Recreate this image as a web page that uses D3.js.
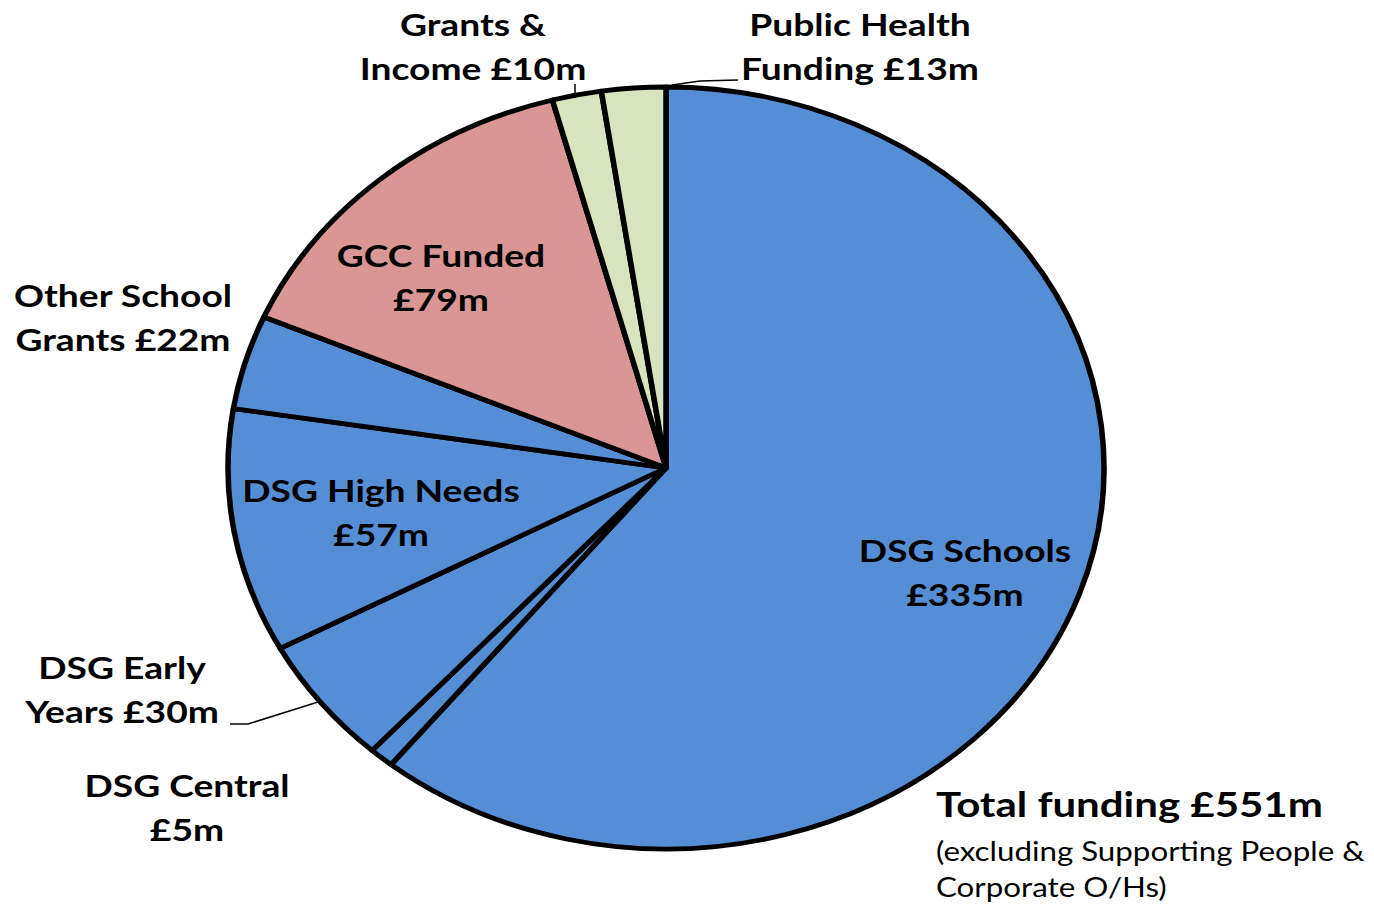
<!DOCTYPE html>
<html>
<head>
<meta charset="utf-8">
<script src="https://cdn.jsdelivr.net/npm/d3@7"></script>
<style>
  body { margin: 0; background: #fff; }
  svg { display: block; }
</style>
</head>
<body>
<div id="chart"></div>
<script>
// slice names, clockwise from 12 o'clock
var categories = ['DSG Schools', 'DSG Central', 'DSG Early Years', 'DSG High Needs',
                  'Other School Grants', 'GCC Funded', 'Grants & Income', 'Public Health Funding'];
// funding, £m
var values = [335, 5, 30, 57, 22, 79, 10, 13];
// label text, line by line
var labelLines = [
    ['DSG Schools', '£335m'],
    ['DSG Central', '£5m'],
    ['DSG Early', 'Years £30m'],
    ['DSG High Needs', '£57m'],
    ['Other School', 'Grants £22m'],
    ['GCC Funded', '£79m'],
    ['Grants &', 'Income £10m'],
    ['Public Health', 'Funding £13m']
];
var total = d3.sum(values);

var width = 1374, height = 908;
var cx = 666, cy = 468, ry = 381, rx = 438;
var sx = rx / ry;

var colors = ['#558ed5', '#558ed5', '#558ed5', '#558ed5', '#558ed5', '#d99694', '#d7e4bd', '#d7e4bd'];

// label anchors (page coords, centre of first line)
var labelPos = [[965, 551], [187, 786], [122, 668], [381, 491], [123, 296], [441, 256], [473, 25], [860, 25]];
var lineGap = 44;
var textStretch = 1.2;   // the original picture is stretched sideways

var svg = d3.select('#chart').append('svg')
    .attr('width', width)
    .attr('height', height);

var data = values.map(function (v, i) { return { name: categories[i], value: v, i: i }; });
var pie = d3.pie().sort(null).value(function (d) { return d.value; });
var arc = d3.arc().innerRadius(0).outerRadius(ry);

var g = svg.append('g')
    .attr('transform', 'translate(' + cx + ',' + cy + ') scale(' + sx + ',1)');

g.selectAll('path')
    .data(pie(data))
    .enter()
    .append('path')
    .attr('d', arc)
    .style('fill', function (d) { return colors[d.data.i]; })
    .style('stroke', '#000')
    .style('stroke-width', 4.8)
    .style('stroke-linejoin', 'round');

// leader lines
var leaders = [
    [[575, 98], [575, 84]],
    [[672, 85], [700, 81], [738, 80]],
    [[318, 702], [248, 724], [230, 724]]
];
svg.selectAll('polyline.leader')
    .data(leaders)
    .enter()
    .append('polyline')
    .attr('class', 'leader')
    .attr('points', function (d) { return d.map(function (p) { return p.join(','); }).join(' '); })
    .style('fill', 'none')
    .style('stroke', '#000')
    .style('stroke-width', 1.5);

var labels = svg.append('g')
    .selectAll('text')
    .data(labelLines)
    .enter()
    .append('text')
    .attr('transform', function (d, i) {
        return 'translate(' + labelPos[i][0] + ',' + labelPos[i][1] + ') scale(' + textStretch + ',1)';
    })
    .attr('text-anchor', 'middle')
    .style('font-family', 'Lato, "Open Sans", sans-serif')
    .style('font-weight', 'bold')
    .style('font-size', '31px')
    .style('fill', '#000');

labels.each(function (lines) {
    var t = d3.select(this);
    lines.forEach(function (s, k) {
        t.append('tspan')
            .attr('x', 0)
            .attr('y', k * lineGap)
            .attr('dy', '0.35em')
            .text(s);
    });
});

function note(txt, x, y, size, weight, stretch) {
    svg.append('text')
        .attr('transform', 'translate(' + x + ',' + y + ') scale(' + stretch + ',1)')
        .attr('dy', '0.35em')
        .style('font-family', 'Lato, "Open Sans", sans-serif')
        .style('font-weight', weight)
        .style('font-size', size)
        .text(txt);
}

note('Total funding £' + total + 'm', 936, 805, '35px', 'bold', 1.2);
note('(excluding Supporting People &', 936, 852, '27px', 'normal', 1.16);
note('Corporate O/Hs)', 936, 888, '27px', 'normal', 1.16);
</script>
</body>
</html>
